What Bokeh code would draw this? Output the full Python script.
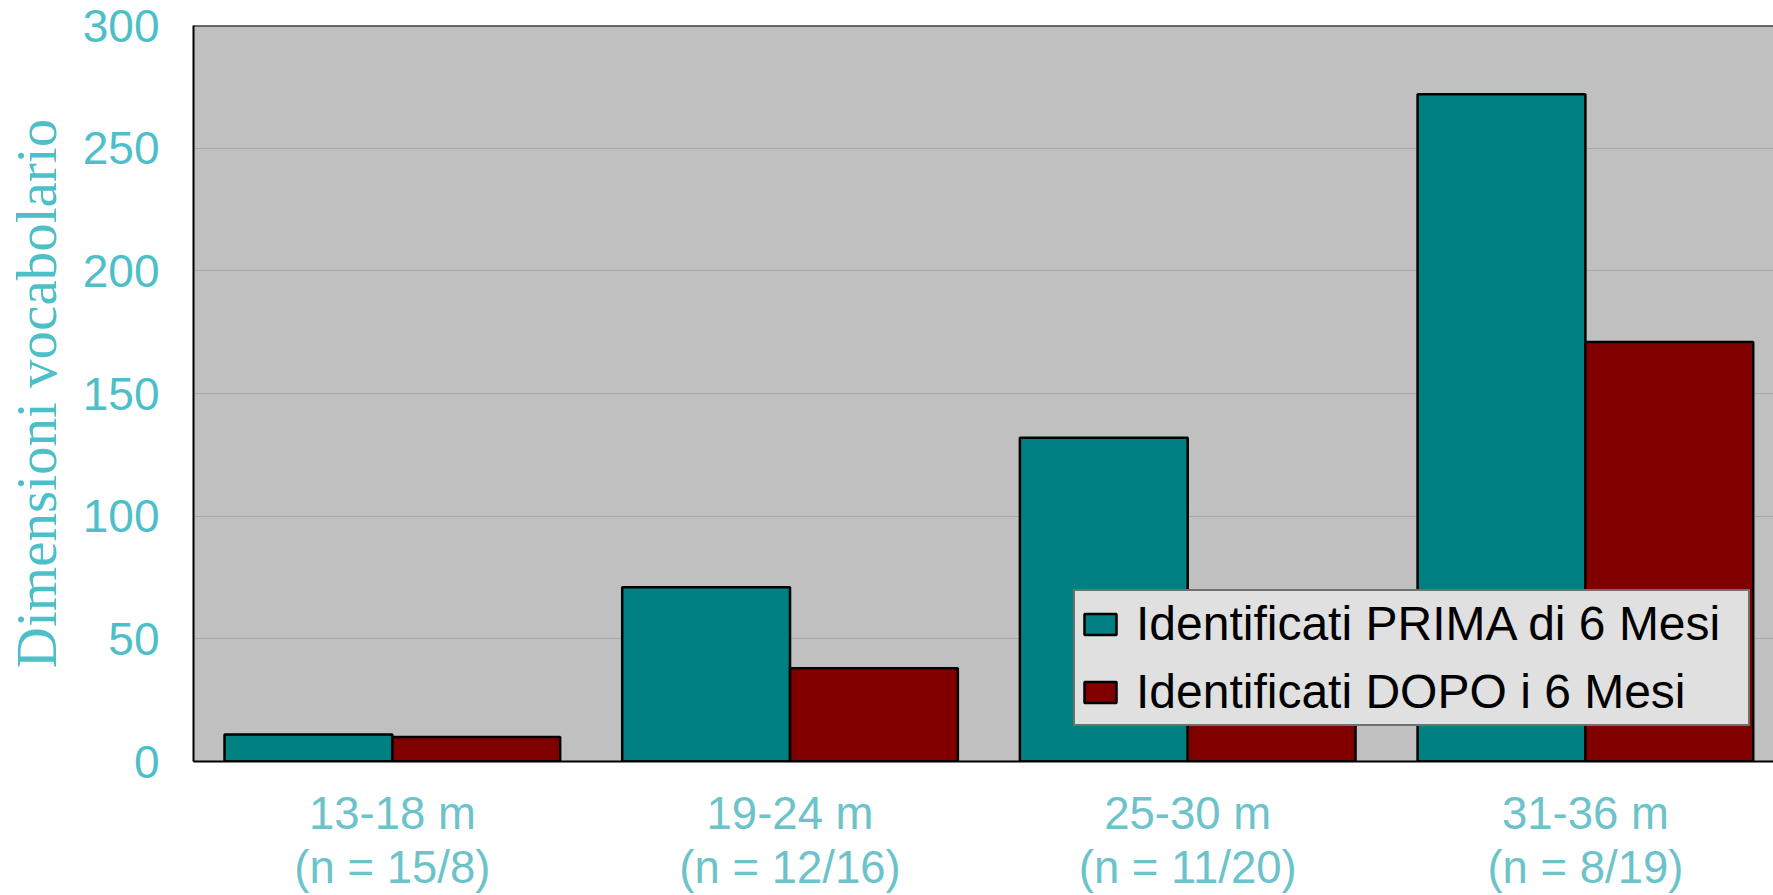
from bokeh.plotting import figure
from bokeh.models import (Range1d, FixedTicker, Span, Legend, LegendItem,
                          ColumnDataSource)
from bokeh.transform import dodge
from bokeh.embed import file_html
from bokeh.resources import INLINE

# Age groups, with the group sizes (before / after 6 months)
categories = ["13-18 m", "19-24 m", "25-30 m", "31-36 m"]
group_sizes = ["(n = 15/8)", "(n = 12/16)", "(n = 11/20)", "(n = 8/19)"]

# Vocabulary size per group
prima = [11, 71, 132, 272]
dopo = [10, 38, 62, 171]

series_names = ["Identificati PRIMA di 6 Mesi", "Identificati DOPO i 6 Mesi"]
y_ticks = [0, 50, 100, 150, 200, 250, 300]

centers = [i + 0.5 for i in range(len(categories))]
src = ColumnDataSource(dict(x=centers, prima=prima, dopo=dopo))

LABEL_BLUE = "#4dbfc9"
XLABEL_BLUE = "#6cc3ca"

p = figure(width=1773, height=895, output_backend="svg", toolbar_location=None,
           x_range=Range1d(0, 3.973), y_range=Range1d(0, 300),
           min_border_left=193, min_border_right=0, min_border_top=25,
           min_border_bottom=133)

p.background_fill_color = "#c0c0c0"
p.border_fill_color = "white"
p.outline_line_color = None

bar_w = 0.422
r1 = p.vbar(x=dodge("x", -0.211), top="prima", width=bar_w, source=src,
            fill_color="#008080", line_color="black", line_width=2.5)
r2 = p.vbar(x=dodge("x", 0.211), top="dopo", width=bar_w, source=src,
            fill_color="#800000", line_color="black", line_width=2.5)

# top frame edge
p.add_layout(Span(location=300, dimension="width", line_color="black", line_width=2))

# grid
p.xgrid.visible = False
p.ygrid.grid_line_color = "#a9a9a9"
p.ygrid.grid_line_width = 1
p.ygrid.ticker = FixedTicker(ticks=y_ticks)

# y axis
ya = p.yaxis[0]
ya.ticker = FixedTicker(ticks=y_ticks)
ya.axis_line_color = "black"
ya.axis_line_width = 2
ya.major_tick_line_color = None
ya.minor_tick_line_color = None
ya.major_label_text_font = "Liberation Sans"
ya.major_label_text_font_size = "46px"
ya.major_label_text_color = LABEL_BLUE
ya.major_label_standoff = 28
ya.axis_label = "Dimensioni vocabolario"
ya.axis_label_text_font = "Liberation Serif"
ya.axis_label_text_font_size = "57px"
ya.axis_label_text_font_style = "normal"
ya.axis_label_text_color = LABEL_BLUE
ya.axis_label_standoff = 12

# x axis
xa = p.xaxis[0]
xa.ticker = FixedTicker(ticks=centers)
xa.major_label_overrides = {c: f"{cat}\n{n}" for c, cat, n in zip(centers, categories, group_sizes)}
xa.axis_line_color = "black"
xa.axis_line_width = 2
xa.major_tick_line_color = None
xa.minor_tick_line_color = None
xa.major_label_text_font = "Liberation Sans"
xa.major_label_text_font_size = "45.5px"
xa.major_label_text_color = XLABEL_BLUE
xa.major_label_text_line_height = 1.06
xa.major_label_standoff = 20

legend = Legend(items=[LegendItem(label=series_names[0], renderers=[r1]),
                       LegendItem(label=series_names[1], renderers=[r2])],
                location=(880, 35))
legend.label_text_font = "Liberation Sans"
legend.label_text_font_size = "48px"
legend.label_text_color = "black"
legend.glyph_width = 40
legend.glyph_height = 26
legend.label_standoff = 16
legend.label_width = 607
legend.padding = 5
legend.spacing = 13
legend.margin = 0
legend.background_fill_color = "#e0e0e0"
legend.background_fill_alpha = 1
legend.border_line_color = "black"
legend.border_line_width = 2
p.add_layout(legend)

open("out.html", "w").write(file_html(p, INLINE))
